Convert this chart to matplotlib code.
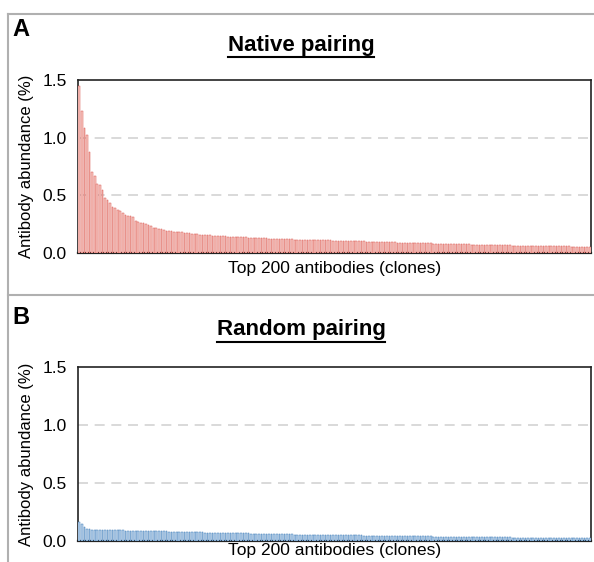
import matplotlib
matplotlib.use('Agg')
import matplotlib.pyplot as plt
from matplotlib.lines import Line2D

plt.rcParams['font.family'] = ['Liberation Sans', 'DejaVu Sans']

# Abundance (%) of top 200 clones
native = [
    1.45, 1.23, 1.08, 1.02, 0.88, 0.70, 0.67, 0.60, 0.59, 0.55,
    0.48, 0.46, 0.43, 0.40, 0.39, 0.37, 0.36, 0.35, 0.33, 0.32,
    0.32, 0.31, 0.28, 0.27, 0.26, 0.26, 0.25, 0.24, 0.23, 0.22,
    0.215, 0.21, 0.205, 0.20, 0.195, 0.19, 0.19, 0.185, 0.18, 0.18,
    0.178, 0.175, 0.172, 0.170, 0.168, 0.165, 0.163, 0.160, 0.158, 0.156,
    0.155, 0.153, 0.151, 0.150, 0.148, 0.147, 0.145, 0.144, 0.143, 0.142,
    0.140, 0.139, 0.138, 0.137, 0.136, 0.135, 0.134, 0.133, 0.132, 0.131,
    0.128, 0.127, 0.126, 0.126, 0.125, 0.124, 0.123, 0.123, 0.122, 0.121,
    0.120, 0.120, 0.119, 0.118, 0.117, 0.117, 0.116, 0.115, 0.115, 0.114,
    0.113, 0.113, 0.112, 0.112, 0.111, 0.110, 0.110, 0.109, 0.109, 0.108,
    0.107, 0.107, 0.106, 0.105, 0.105, 0.104, 0.103, 0.103, 0.102, 0.101,
    0.100, 0.100, 0.099, 0.098, 0.098, 0.097, 0.096, 0.096, 0.095, 0.094,
    0.094, 0.093, 0.092, 0.092, 0.091, 0.090, 0.090, 0.089, 0.088, 0.088,
    0.087, 0.086, 0.086, 0.085, 0.085, 0.084, 0.083, 0.083, 0.082, 0.082,
    0.081, 0.080, 0.080, 0.079, 0.079, 0.078, 0.077, 0.077, 0.076, 0.076,
    0.075, 0.075, 0.074, 0.073, 0.073, 0.072, 0.072, 0.071, 0.071, 0.070,
    0.070, 0.069, 0.069, 0.068, 0.068, 0.067, 0.067, 0.066, 0.066, 0.065,
    0.065, 0.064, 0.064, 0.063, 0.063, 0.063, 0.062, 0.062, 0.061, 0.061,
    0.061, 0.060, 0.060, 0.059, 0.059, 0.059, 0.058, 0.058, 0.058, 0.057,
    0.057, 0.057, 0.056, 0.056, 0.056, 0.055, 0.055, 0.055, 0.054, 0.054,
]

random_pair = [
    0.160, 0.150, 0.120, 0.105, 0.100, 0.098, 0.097, 0.096, 0.095, 0.095,
    0.094, 0.094, 0.093, 0.093, 0.092, 0.092, 0.091, 0.091, 0.090, 0.090,
    0.089, 0.089, 0.088, 0.088, 0.087, 0.087, 0.086, 0.086, 0.085, 0.085,
    0.084, 0.083, 0.083, 0.082, 0.082, 0.081, 0.080, 0.080, 0.079, 0.079,
    0.078, 0.077, 0.077, 0.076, 0.076, 0.075, 0.075, 0.074, 0.074, 0.073,
    0.073, 0.072, 0.072, 0.071, 0.071, 0.070, 0.070, 0.069, 0.069, 0.068,
    0.068, 0.067, 0.067, 0.066, 0.066, 0.065, 0.065, 0.064, 0.064, 0.063,
    0.063, 0.062, 0.062, 0.061, 0.061, 0.060, 0.060, 0.059, 0.059, 0.058,
    0.058, 0.058, 0.057, 0.057, 0.056, 0.056, 0.056, 0.055, 0.055, 0.055,
    0.054, 0.054, 0.054, 0.053, 0.053, 0.053, 0.052, 0.052, 0.052, 0.051,
    0.051, 0.051, 0.050, 0.050, 0.050, 0.049, 0.049, 0.049, 0.048, 0.048,
    0.048, 0.047, 0.047, 0.047, 0.046, 0.046, 0.046, 0.045, 0.045, 0.045,
    0.044, 0.044, 0.044, 0.043, 0.043, 0.043, 0.042, 0.042, 0.042, 0.041,
    0.041, 0.041, 0.040, 0.040, 0.040, 0.039, 0.039, 0.039, 0.038, 0.038,
    0.038, 0.038, 0.037, 0.037, 0.037, 0.036, 0.036, 0.036, 0.036, 0.035,
    0.035, 0.035, 0.035, 0.034, 0.034, 0.034, 0.034, 0.033, 0.033, 0.033,
    0.033, 0.032, 0.032, 0.032, 0.032, 0.031, 0.031, 0.031, 0.031, 0.030,
    0.030, 0.030, 0.030, 0.030, 0.029, 0.029, 0.029, 0.029, 0.029, 0.028,
    0.028, 0.028, 0.028, 0.028, 0.027, 0.027, 0.027, 0.027, 0.027, 0.027,
    0.026, 0.026, 0.026, 0.026, 0.026, 0.025, 0.025, 0.025, 0.025, 0.025,
]

panels = ['A', 'B']
titles = ['Native pairing', 'Random pairing']
yticks = [0.0, 0.5, 1.0, 1.5]

W, H = 594, 562
fig = plt.figure(figsize=(W / 100, H / 100), dpi=100)

# panel frame lines (gray)
gray = '#b0b0b0'
fig.add_artist(Line2D([8 / W, 1], [1 - 14 / H, 1 - 14 / H], color=gray, lw=1.5))
fig.add_artist(Line2D([8 / W, 8 / W], [0, 1 - 14 / H], color=gray, lw=1.5))
fig.add_artist(Line2D([8 / W, 1], [1 - 295 / H, 1 - 295 / H], color=gray, lw=1.5))

# data, edge colour, fill colour, axes top/bottom px, title y, panel letter y, xlabel pad
specs = [
    (native, '#d9544c', '#f8cdc8', 80, 253, 45, 30, 6),
    (random_pair, '#3a78b5', '#c2d8ee', 367, 541, 330, 318, 1.5),
]

titles_txt = []
for i, (vals, ec, fc, top, bot, ty, ly, lp) in enumerate(specs):
    ax = fig.add_axes([78 / W, 1 - bot / H, (591 - 78) / W, (bot - top) / H])
    x = range(1, len(vals) + 1)
    ax.bar(x, vals, width=0.65, color=fc, edgecolor=ec, linewidth=0.35, zorder=3)
    ax.set_xlim(0.5, len(vals) + 0.5)
    ax.set_ylim(0, 1.5)
    ax.set_yticks(yticks)
    ax.set_yticklabels(['%.1f' % t for t in yticks], fontsize=12.5)
    ax.set_xticks([])
    ax.tick_params(axis='y', length=0, pad=8)
    for yv in [0.5, 1.0]:
        ax.axhline(yv, color='#d3d3d3', lw=1.2, ls=(0, (6, 4)), zorder=1)
    for s in ax.spines.values():
        s.set_linewidth(1.2)
        s.set_color('#222222')
    ax.spines['bottom'].set_linewidth(1.6)
    ax.set_ylabel('Antibody abundance (%)', fontsize=12, labelpad=6)
    ax.set_xlabel('Top 200 antibodies (clones)', fontsize=12.5, labelpad=lp)
    fig.text(12 / W, 1 - ly / H, panels[i], fontsize=17, fontweight='bold',
             va='center', ha='left')
    t = fig.text(301 / W, 1 - ty / H, titles[i], fontsize=16, fontweight='bold',
                 va='center', ha='center')
    titles_txt.append(t)

# underline the titles
fig.canvas.draw()
r = fig.canvas.get_renderer()
for t in titles_txt:
    bb = t.get_window_extent(renderer=r)
    yl = (bb.y0 - 1) / (H)
    fig.add_artist(Line2D([bb.x0 / W, bb.x1 / W], [yl, yl], color='black', lw=1.5))

fig.savefig('out.png', dpi=100)
